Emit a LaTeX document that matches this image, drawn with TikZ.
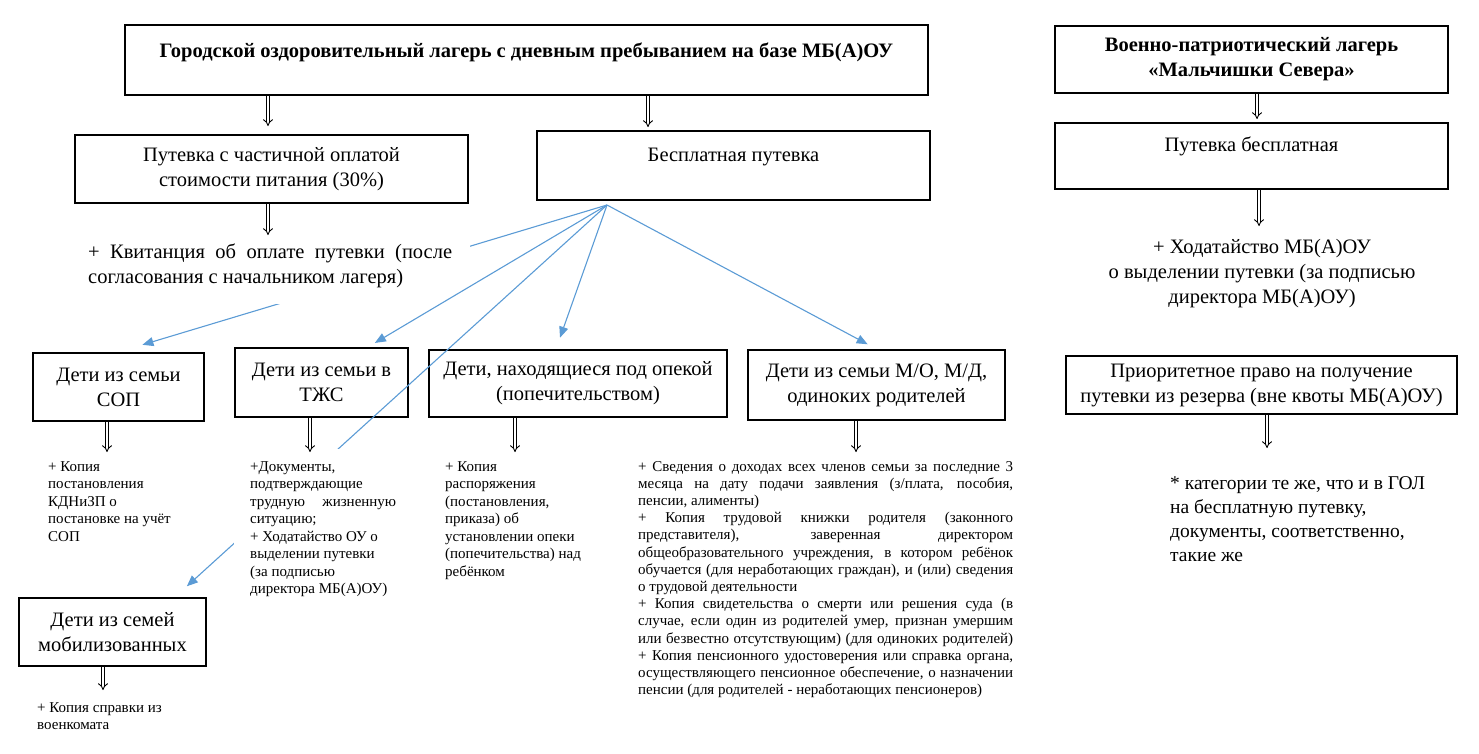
\documentclass[tikz,border=0pt]{standalone}
\usepackage{fontspec}
\setmainfont{Liberation Serif}
\usetikzlibrary{arrows.meta}
\definecolor{linkblue}{RGB}{91,155,213}
\newcommand{\bigfont}{\fontsize{20.5}{25}\selectfont}
\newcommand{\smallfont}{\fontsize{15}{17.5}\selectfont}
\hyphenpenalty=10000
\exhyphenpenalty=10000

\begin{document}
\begin{tikzpicture}[x=1pt, y=-1pt,
  box/.style={draw, line width=2pt, align=center, inner sep=0pt, font=\bigfont},
  note/.style={inner sep=0pt, align=left, font=\smallfont},
  dbl/.style={double, double distance=2.6pt, line width=0.9pt, -{Implies}},
  link/.style={draw=linkblue, line width=1.1pt, -{Triangle[length=11pt,width=9pt]}}]
  \useasboundingbox (0,0) rectangle (1479,753);

  % boxes
  \node[box, font=\bigfont\bfseries, minimum width=803pt, minimum height=70pt, text depth=20.4pt] (gol) at (526.5,60)
    {Городской оздоровительный лагерь с дневным пребыванием на базе МБ(А)ОУ};
  \node[box, font=\bigfont\bfseries, minimum width=393pt, minimum height=67pt] (vpl) at (1251.5,59.5)
    {Военно-патриотический лагерь\\«Мальчишки Севера»};
  \node[box, minimum width=393pt, minimum height=68pt] (pch) at (271.5,169)
    {Путевка с частичной оплатой\\стоимости питания (30\%)};
  \node[box, minimum width=393pt, minimum height=69pt, text depth=21pt] (free) at (733.5,165.5)
    {Бесплатная путевка};
  \node[box, minimum width=393pt, minimum height=66pt, text depth=24.4pt] (vfree) at (1251.5,156)
    {Путевка бесплатная};
  \node[box, minimum width=171pt, minimum height=68pt] (sop) at (118.5,387) {Дети из семьи\\СОП};
  \node[box, minimum width=173pt, minimum height=69pt] (tjs) at (321.5,382.5) {Дети из семьи в\\ТЖС};
  \node[box, minimum width=298pt, minimum height=67pt] (opek) at (578,383.5)
    {Дети, находящиеся под опекой\\(попечительством)};
  \node[box, minimum width=257pt, minimum height=70pt] (mo) at (876.5,385)
    {Дети из семьи М/О, М/Д,\\одиноких родителей};
  \node[box, minimum width=391pt, minimum height=58pt] (prior) at (1261.5,385)
    {Приоритетное право на получение\\путевки из резерва (вне квоты МБ(А)ОУ)};
  \node[box, minimum width=187pt, minimum height=68pt] (mob) at (112.5,632) {Дети из семей\\мобилизованных};

  % links under the text frames
  \coordinate (fan) at (607,205);
  \draw[link, shorten >=25pt] (fan) -- (sop.north);
  \draw[link, shorten >=16pt] (fan) -- (mob.north -| 175,0);

  % texts
  \node[anchor=north west, fill=white, inner xsep=18pt, inner ysep=16pt, text width=364pt, align=justify, font=\bigfont] (kvit) at (70,228)
    {+ Квитанция об оплате путевки (после\linebreak согласования с начальником лагеря)};
  \node[anchor=north, inner sep=0pt, align=center, font=\bigfont] (hod) at (1262,239)
    {+ Ходатайство МБ(А)ОУ\\о выделении путевки (за подписью\\директора МБ(А)ОУ)};
  \node[note, anchor=north west] (soptxt) at (48,461)
    {+ Копия\\постановления\\КДНиЗП о\\постановке на учёт\\СОП};
  \node[note, anchor=north west, fill=white, inner xsep=16pt, inner ysep=12pt, text width=146pt, align=justify] (tjstxt) at (234,449)
    {+Документы,\\подтверждающие\\трудную жизненную\linebreak ситуацию;\\+ Ходатайство ОУ о\\выделении путевки\\(за подписью\\директора МБ(А)ОУ)};
  \node[note, anchor=north west] (opektxt) at (445,461)
    {+ Копия\\распоряжения\\(постановления,\\приказа) об\\установлении опеки\\(попечительства) над\\ребёнком};
  \node[note, anchor=north west, text width=375pt, align=justify, font=\fontsize{15}{17.2}\selectfont] (motxt) at (638,461)
    {+ Сведения о доходах всех членов семьи за последние 3\linebreak
     месяца на дату подачи заявления (з/плата, пособия,\linebreak
     пенсии, алименты)\\
     + Копия трудовой книжки родителя (законного\linebreak
     представителя), заверенная директором\linebreak
     общеобразовательного учреждения, в котором ребёнок\linebreak
     обучается (для неработающих граждан), и (или) сведения\linebreak
     о трудовой деятельности\\
     + Копия свидетельства о смерти или решения суда (в\linebreak
     случае, если один из родителей умер, признан умершим\linebreak
     или безвестно отсутствующим) (для одиноких родителей)\linebreak
     + Копия пенсионного удостоверения или справка органа,\linebreak
     осуществляющего пенсионное обеспечение, о назначении\linebreak
     пенсии (для родителей - неработающих пенсионеров)};
  \node[anchor=north west, inner sep=0pt, align=left, font=\fontsize{19.5}{24}\selectfont] (priortxt) at (1170,476)
    {* категории те же, что и в ГОЛ\\на бесплатную путевку,\\документы, соответственно,\\такие же};
  \node[note, anchor=north west] (mobtxt) at (37,702) {+ Копия справки из\\военкомата};

  % links from the free voucher
  \draw[link, shorten >=8pt] (fan) -- (tjs.north -| 368,0);
  \draw[link, shorten >=12pt] (fan) -- (opek.north -| 556,0);
  \draw[link, shorten >=10pt] (fan) -- (mo.north);

  % double arrows
  \draw[dbl, shorten >=8pt] (gol.south -| 268,0) -- (pch.north -| 268,0);
  \draw[dbl, shorten >=3pt] (gol.south -| 648,0) -- (free.north -| 648,0);
  \draw[dbl, shorten >=3pt] (vpl.south -| 1257,0) -- (vfree.north -| 1257,0);
  \draw[dbl, shorten >=13pt] (vfree.south -| 1259,0) -- (hod.north -| 1259,0);
  \draw[dbl, shorten >=-7pt] (pch.south -| 268,0) -- (kvit.north -| 268,0);
  \draw[dbl, shorten >=9pt] (sop.south -| 107,0) -- (soptxt.north -| 107,0);
  \draw[dbl, shorten >=-3pt] (tjs.south -| 310,0) -- (tjstxt.north -| 310,0);
  \draw[dbl, shorten >=9pt] (opek.south -| 515,0) -- (opektxt.north -| 515,0);
  \draw[dbl, shorten >=9pt] (mo.south -| 856,0) -- (motxt.north -| 856,0);
  \draw[dbl, shorten >=28pt] (prior.south -| 1267,0) -- (priortxt.north -| 1267,0);
  \draw[dbl, shorten >=12pt] (mob.south -| 103,0) -- (mobtxt.north -| 103,0);
\end{tikzpicture}
\end{document}
